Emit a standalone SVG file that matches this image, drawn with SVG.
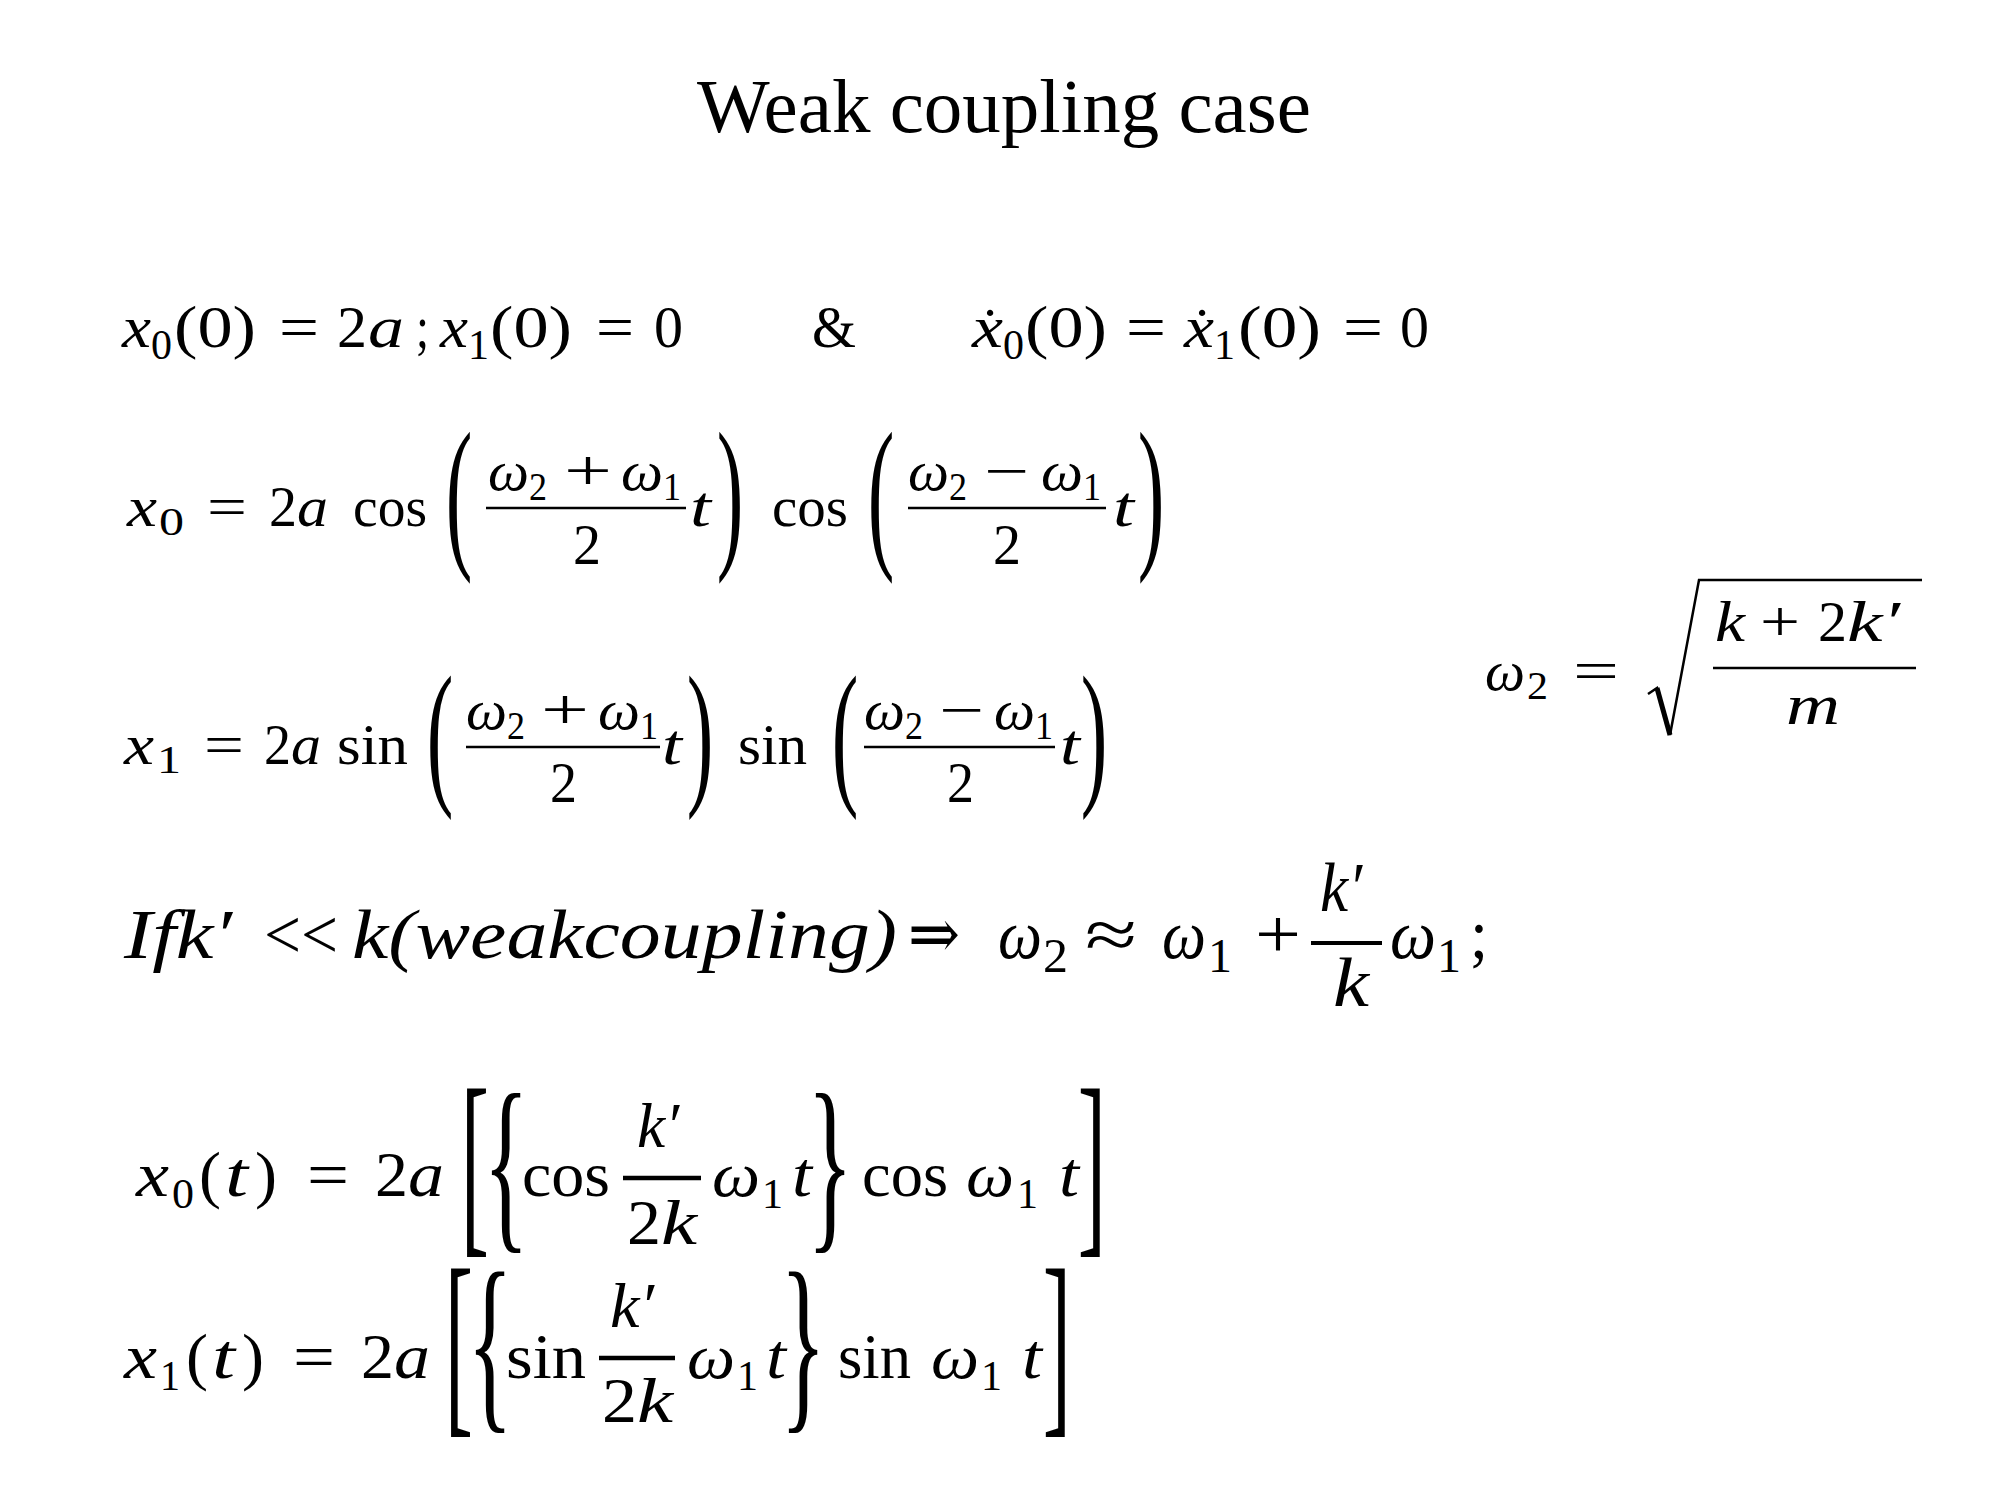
<svg xmlns="http://www.w3.org/2000/svg" width="2000" height="1500" viewBox="0 0 2000 1500">
<style>
text{font-family:"Liberation Serif","DejaVu Serif",serif;fill:#000}
.i{font-style:italic}
.l1{font-size:60px}
.s1{font-size:42px}
.l2{font-size:56px}
.s2{font-size:40px}
.lq{font-size:58px}
.l4{font-size:70px}
.s4{font-size:48px}
.l5{font-size:64px}
.s5{font-size:42px}
.dl{font-size:50px}
.bar{stroke:#000;fill:none}
</style>
<rect width="2000" height="1500" fill="#fff"/>
<g id="title"><text x="1004" y="132" font-size="77" text-anchor="middle">Weak coupling case</text></g>

<g id="initial-conditions">
<text class="l1 i" x="122" y="347" textLength="29" lengthAdjust="spacingAndGlyphs">x</text>
<text class="s1" x="151" y="359" textLength="21" lengthAdjust="spacingAndGlyphs">0</text>
<text class="l1" x="174" y="347" textLength="82" lengthAdjust="spacingAndGlyphs">(0)</text>
<text class="l1" x="279" y="347" textLength="40" lengthAdjust="spacingAndGlyphs">=</text>
<text class="l1" x="337" y="347" textLength="30" lengthAdjust="spacingAndGlyphs">2</text>
<text class="l1 i" x="368" y="347" textLength="36" lengthAdjust="spacingAndGlyphs">a</text>
<text class="l1" x="416" y="347" textLength="13" lengthAdjust="spacingAndGlyphs">;</text>
<text class="l1 i" x="440" y="347" textLength="28" lengthAdjust="spacingAndGlyphs">x</text>
<text class="s1" x="468" y="359" textLength="21" lengthAdjust="spacingAndGlyphs">1</text>
<text class="l1" x="490" y="347" textLength="82" lengthAdjust="spacingAndGlyphs">(0)</text>
<text class="l1" x="596" y="347" textLength="38" lengthAdjust="spacingAndGlyphs">=</text>
<text class="l1" x="654" y="347" textLength="29" lengthAdjust="spacingAndGlyphs">0</text>
<text class="l1" x="812" y="347" textLength="44" lengthAdjust="spacingAndGlyphs">&amp;</text>
<text class="l1 i" x="972" y="347" textLength="31" lengthAdjust="spacingAndGlyphs">x</text>
<text class="l1" x="990" y="349" text-anchor="middle">˙</text>
<text class="s1" x="1003" y="359" textLength="21" lengthAdjust="spacingAndGlyphs">0</text>
<text class="l1" x="1025" y="347" textLength="82" lengthAdjust="spacingAndGlyphs">(0)</text>
<text class="l1" x="1126" y="347" textLength="40" lengthAdjust="spacingAndGlyphs">=</text>
<text class="l1 i" x="1184" y="347" textLength="30" lengthAdjust="spacingAndGlyphs">x</text>
<text class="l1" x="1202" y="349" text-anchor="middle">˙</text>
<text class="s1" x="1214" y="359" textLength="21" lengthAdjust="spacingAndGlyphs">1</text>
<text class="l1" x="1238" y="347" textLength="83" lengthAdjust="spacingAndGlyphs">(0)</text>
<text class="l1" x="1343" y="347" textLength="40" lengthAdjust="spacingAndGlyphs">=</text>
<text class="l1" x="1400" y="347" textLength="29" lengthAdjust="spacingAndGlyphs">0</text>
</g>

<g id="eq-x0">
<text class="l2 i" x="127" y="526" textLength="30" lengthAdjust="spacingAndGlyphs">x</text>
<text class="s2" x="159" y="535" textLength="25" lengthAdjust="spacingAndGlyphs">0</text>
<text class="l2" x="207" y="526" textLength="40" lengthAdjust="spacingAndGlyphs">=</text>
<text class="l2" x="269" y="526" textLength="28" lengthAdjust="spacingAndGlyphs">2</text>
<text class="l2 i" x="297" y="526" textLength="31" lengthAdjust="spacingAndGlyphs">a</text>
<text class="l2" x="353" y="526" textLength="74" lengthAdjust="spacingAndGlyphs">cos</text>
<text class="dl" text-anchor="middle" transform="translate(459,547.5) scale(1.6,3.33)">(</text>
<text class="l2 i" x="488" y="490" textLength="41" lengthAdjust="spacingAndGlyphs">ω</text>
<text class="s2" x="529" y="500" textLength="18" lengthAdjust="spacingAndGlyphs">2</text>
<text class="l2" x="564" y="490" textLength="48" lengthAdjust="spacingAndGlyphs">+</text>
<text class="l2 i" x="621" y="490" textLength="42" lengthAdjust="spacingAndGlyphs">ω</text>
<text class="s2" x="663" y="500" textLength="18" lengthAdjust="spacingAndGlyphs">1</text>
<line class="bar" x1="486" y1="508" x2="686" y2="508" stroke-width="2.5"/>
<text class="l2" x="573" y="564" textLength="28" lengthAdjust="spacingAndGlyphs">2</text>
<text class="l2 i" x="690" y="526" textLength="21" lengthAdjust="spacingAndGlyphs">t</text>
<text class="dl" text-anchor="middle" transform="translate(730,547.5) scale(1.6,3.33)">)</text>
<text class="l2" x="772" y="526" textLength="76" lengthAdjust="spacingAndGlyphs">cos</text>
<text class="dl" text-anchor="middle" transform="translate(881,547.5) scale(1.6,3.33)">(</text>
<text class="l2 i" x="908" y="490" textLength="41" lengthAdjust="spacingAndGlyphs">ω</text>
<text class="s2" x="949" y="500" textLength="18" lengthAdjust="spacingAndGlyphs">2</text>
<text class="l2" x="984" y="490" textLength="45" lengthAdjust="spacingAndGlyphs">−</text>
<text class="l2 i" x="1041" y="490" textLength="42" lengthAdjust="spacingAndGlyphs">ω</text>
<text class="s2" x="1083" y="500" textLength="18" lengthAdjust="spacingAndGlyphs">1</text>
<line class="bar" x1="908" y1="508" x2="1106" y2="508" stroke-width="2.5"/>
<text class="l2" x="993" y="564" textLength="28" lengthAdjust="spacingAndGlyphs">2</text>
<text class="l2 i" x="1113" y="526" textLength="21" lengthAdjust="spacingAndGlyphs">t</text>
<text class="dl" text-anchor="middle" transform="translate(1151,547.5) scale(1.6,3.33)">)</text>
</g>

<g id="eq-x1">
<text class="l2 i" x="124" y="764" textLength="30" lengthAdjust="spacingAndGlyphs">x</text>
<text class="s2" x="157" y="773" textLength="24" lengthAdjust="spacingAndGlyphs">1</text>
<text class="l2" x="204" y="764" textLength="40" lengthAdjust="spacingAndGlyphs">=</text>
<text class="l2" x="264" y="764" textLength="27" lengthAdjust="spacingAndGlyphs">2</text>
<text class="l2 i" x="291" y="764" textLength="30" lengthAdjust="spacingAndGlyphs">a</text>
<text class="l2" x="337" y="764" textLength="71" lengthAdjust="spacingAndGlyphs">sin</text>
<text class="dl" text-anchor="middle" transform="translate(440,786) scale(1.6,3.19)">(</text>
<text class="l2 i" x="466" y="729" textLength="41" lengthAdjust="spacingAndGlyphs">ω</text>
<text class="s2" x="507" y="739" textLength="18" lengthAdjust="spacingAndGlyphs">2</text>
<text class="l2" x="541" y="729" textLength="48" lengthAdjust="spacingAndGlyphs">+</text>
<text class="l2 i" x="598" y="729" textLength="42" lengthAdjust="spacingAndGlyphs">ω</text>
<text class="s2" x="640" y="739" textLength="18" lengthAdjust="spacingAndGlyphs">1</text>
<line class="bar" x1="466" y1="747" x2="660" y2="747" stroke-width="2.5"/>
<text class="l2" x="550" y="802" textLength="27" lengthAdjust="spacingAndGlyphs">2</text>
<text class="l2 i" x="662" y="764" textLength="20" lengthAdjust="spacingAndGlyphs">t</text>
<text class="dl" text-anchor="middle" transform="translate(700,786) scale(1.6,3.19)">)</text>
<text class="l2" x="738" y="764" textLength="69" lengthAdjust="spacingAndGlyphs">sin</text>
<text class="dl" text-anchor="middle" transform="translate(845,786) scale(1.6,3.19)">(</text>
<text class="l2 i" x="864" y="729" textLength="41" lengthAdjust="spacingAndGlyphs">ω</text>
<text class="s2" x="905" y="739" textLength="18" lengthAdjust="spacingAndGlyphs">2</text>
<text class="l2" x="939" y="729" textLength="45" lengthAdjust="spacingAndGlyphs">−</text>
<text class="l2 i" x="994" y="729" textLength="41" lengthAdjust="spacingAndGlyphs">ω</text>
<text class="s2" x="1035" y="739" textLength="18" lengthAdjust="spacingAndGlyphs">1</text>
<line class="bar" x1="864" y1="747" x2="1055" y2="747" stroke-width="2.5"/>
<text class="l2" x="947" y="802" textLength="27" lengthAdjust="spacingAndGlyphs">2</text>
<text class="l2 i" x="1060" y="764" textLength="20" lengthAdjust="spacingAndGlyphs">t</text>
<text class="dl" text-anchor="middle" transform="translate(1094,786) scale(1.6,3.19)">)</text>
</g>

<g id="eq-omega2">
<text class="lq i" x="1485" y="690" textLength="40" lengthAdjust="spacingAndGlyphs">ω</text>
<text class="s2" x="1527" y="699" textLength="21" lengthAdjust="spacingAndGlyphs">2</text>
<text class="lq" x="1573" y="690" textLength="46" lengthAdjust="spacingAndGlyphs">=</text>
<polyline class="bar" points="1648,694 1657,688 1670,735 1699,580 1922,580" stroke-width="2.5" stroke-linejoin="miter"/>
<line class="bar" x1="1657" y1="688" x2="1670" y2="735" stroke-width="5"/>
<text class="lq i" x="1715" y="641" textLength="30" lengthAdjust="spacingAndGlyphs">k</text>
<text class="lq" x="1760" y="641" textLength="40" lengthAdjust="spacingAndGlyphs">+</text>
<text class="lq" x="1818" y="641" textLength="29" lengthAdjust="spacingAndGlyphs">2</text>
<text class="lq i" x="1847" y="641" textLength="53" lengthAdjust="spacingAndGlyphs">k′</text>
<line class="bar" x1="1713" y1="668" x2="1916" y2="668" stroke-width="2.5"/>
<text class="lq i" x="1786" y="724" textLength="54" lengthAdjust="spacingAndGlyphs">m</text>
</g>

<g id="weak-coupling">
<text class="l4 i" x="124" y="958" textLength="108" lengthAdjust="spacingAndGlyphs">Ifk′</text>
<text class="l4" x="264" y="958" textLength="74" lengthAdjust="spacingAndGlyphs">&lt;&lt;</text>
<text class="l4 i" x="352" y="958" textLength="545" lengthAdjust="spacingAndGlyphs">k(weakcoupling)</text>
<text class="l4" x="908" y="958" textLength="52" lengthAdjust="spacingAndGlyphs">⇒</text>
<text class="l4 i" x="998" y="958" textLength="44" lengthAdjust="spacingAndGlyphs">ω</text>
<text class="s4" x="1043" y="972" textLength="25" lengthAdjust="spacingAndGlyphs">2</text>
<text class="l4" x="1085" y="958" textLength="52" lengthAdjust="spacingAndGlyphs">≈</text>
<text class="l4 i" x="1162" y="958" textLength="44" lengthAdjust="spacingAndGlyphs">ω</text>
<text class="s4" x="1208" y="972" textLength="24" lengthAdjust="spacingAndGlyphs">1</text>
<text class="l4" x="1255" y="958" textLength="46" lengthAdjust="spacingAndGlyphs">+</text>
<text class="l4 i" x="1320" y="911" textLength="42" lengthAdjust="spacingAndGlyphs">k′</text>
<line class="bar" x1="1311" y1="943" x2="1382" y2="943" stroke-width="4"/>
<text class="l4 i" x="1333" y="1006" textLength="36" lengthAdjust="spacingAndGlyphs">k</text>
<text class="l4 i" x="1390" y="958" textLength="46" lengthAdjust="spacingAndGlyphs">ω</text>
<text class="s4" x="1437" y="972" textLength="24" lengthAdjust="spacingAndGlyphs">1</text>
<text class="l4" x="1470" y="958" textLength="18" lengthAdjust="spacingAndGlyphs">;</text>
</g>

<g id="eq-x0t">
<text class="l5 i" x="136" y="1196" textLength="33" lengthAdjust="spacingAndGlyphs">x</text>
<text class="s5" x="172" y="1208" textLength="22" lengthAdjust="spacingAndGlyphs">0</text>
<text class="l5" x="199" y="1196" textLength="22" lengthAdjust="spacingAndGlyphs">(</text>
<text class="l5 i" x="225" y="1196" textLength="23" lengthAdjust="spacingAndGlyphs">t</text>
<text class="l5" x="255" y="1196" textLength="22" lengthAdjust="spacingAndGlyphs">)</text>
<text class="l5" x="307" y="1196" textLength="42" lengthAdjust="spacingAndGlyphs">=</text>
<text class="l5" x="375" y="1196" textLength="33" lengthAdjust="spacingAndGlyphs">2</text>
<text class="l5 i" x="408" y="1196" textLength="36" lengthAdjust="spacingAndGlyphs">a</text>
<text class="dl" text-anchor="middle" transform="translate(475,1230) scale(1.7,4.06)">[</text>
<text class="dl" text-anchor="middle" transform="translate(506,1227) scale(1.9,3.86)">{</text>
<text class="l5" x="522" y="1196" textLength="88" lengthAdjust="spacingAndGlyphs">cos</text>
<text class="l5 i" x="637" y="1147" textLength="42" lengthAdjust="spacingAndGlyphs">k′</text>
<line class="bar" x1="623" y1="1178" x2="701" y2="1178" stroke-width="4.5"/>
<text class="l5" x="627" y="1244" textLength="34" lengthAdjust="spacingAndGlyphs">2</text>
<text class="l5 i" x="661" y="1244" textLength="36" lengthAdjust="spacingAndGlyphs">k</text>
<text class="l5 i" x="712" y="1196" textLength="48" lengthAdjust="spacingAndGlyphs">ω</text>
<text class="s5" x="762" y="1208" textLength="21" lengthAdjust="spacingAndGlyphs">1</text>
<text class="l5 i" x="792" y="1196" textLength="20" lengthAdjust="spacingAndGlyphs">t</text>
<text class="dl" text-anchor="middle" transform="translate(830,1227) scale(1.9,3.86)">}</text>
<text class="l5" x="862" y="1196" textLength="86" lengthAdjust="spacingAndGlyphs">cos</text>
<text class="l5 i" x="966" y="1196" textLength="48" lengthAdjust="spacingAndGlyphs">ω</text>
<text class="s5" x="1017" y="1208" textLength="21" lengthAdjust="spacingAndGlyphs">1</text>
<text class="l5 i" x="1059" y="1196" textLength="20" lengthAdjust="spacingAndGlyphs">t</text>
<text class="dl" text-anchor="middle" transform="translate(1092,1230) scale(1.7,4.06)">]</text>
</g>

<g id="eq-x1t">
<text class="l5 i" x="124" y="1378" textLength="33" lengthAdjust="spacingAndGlyphs">x</text>
<text class="s5" x="160" y="1390" textLength="20" lengthAdjust="spacingAndGlyphs">1</text>
<text class="l5" x="186" y="1378" textLength="22" lengthAdjust="spacingAndGlyphs">(</text>
<text class="l5 i" x="212" y="1378" textLength="23" lengthAdjust="spacingAndGlyphs">t</text>
<text class="l5" x="242" y="1378" textLength="22" lengthAdjust="spacingAndGlyphs">)</text>
<text class="l5" x="293" y="1378" textLength="42" lengthAdjust="spacingAndGlyphs">=</text>
<text class="l5" x="361" y="1378" textLength="33" lengthAdjust="spacingAndGlyphs">2</text>
<text class="l5 i" x="394" y="1378" textLength="36" lengthAdjust="spacingAndGlyphs">a</text>
<text class="dl" text-anchor="middle" transform="translate(459,1410) scale(1.7,4.08)">[</text>
<text class="dl" text-anchor="middle" transform="translate(490,1407) scale(1.9,3.88)">{</text>
<text class="l5" x="506" y="1378" textLength="80" lengthAdjust="spacingAndGlyphs">sin</text>
<text class="l5 i" x="610" y="1327" textLength="44" lengthAdjust="spacingAndGlyphs">k′</text>
<line class="bar" x1="599" y1="1358" x2="675" y2="1358" stroke-width="4.5"/>
<text class="l5" x="602" y="1422" textLength="35" lengthAdjust="spacingAndGlyphs">2</text>
<text class="l5 i" x="637" y="1422" textLength="36" lengthAdjust="spacingAndGlyphs">k</text>
<text class="l5 i" x="687" y="1378" textLength="48" lengthAdjust="spacingAndGlyphs">ω</text>
<text class="s5" x="737" y="1390" textLength="21" lengthAdjust="spacingAndGlyphs">1</text>
<text class="l5 i" x="766" y="1378" textLength="20" lengthAdjust="spacingAndGlyphs">t</text>
<text class="dl" text-anchor="middle" transform="translate(803,1407) scale(1.9,3.88)">}</text>
<text class="l5" x="838" y="1378" textLength="73" lengthAdjust="spacingAndGlyphs">sin</text>
<text class="l5 i" x="931" y="1378" textLength="48" lengthAdjust="spacingAndGlyphs">ω</text>
<text class="s5" x="981" y="1390" textLength="21" lengthAdjust="spacingAndGlyphs">1</text>
<text class="l5 i" x="1022" y="1378" textLength="20" lengthAdjust="spacingAndGlyphs">t</text>
<text class="dl" text-anchor="middle" transform="translate(1057,1410) scale(1.7,4.08)">]</text>
</g>
</svg>
